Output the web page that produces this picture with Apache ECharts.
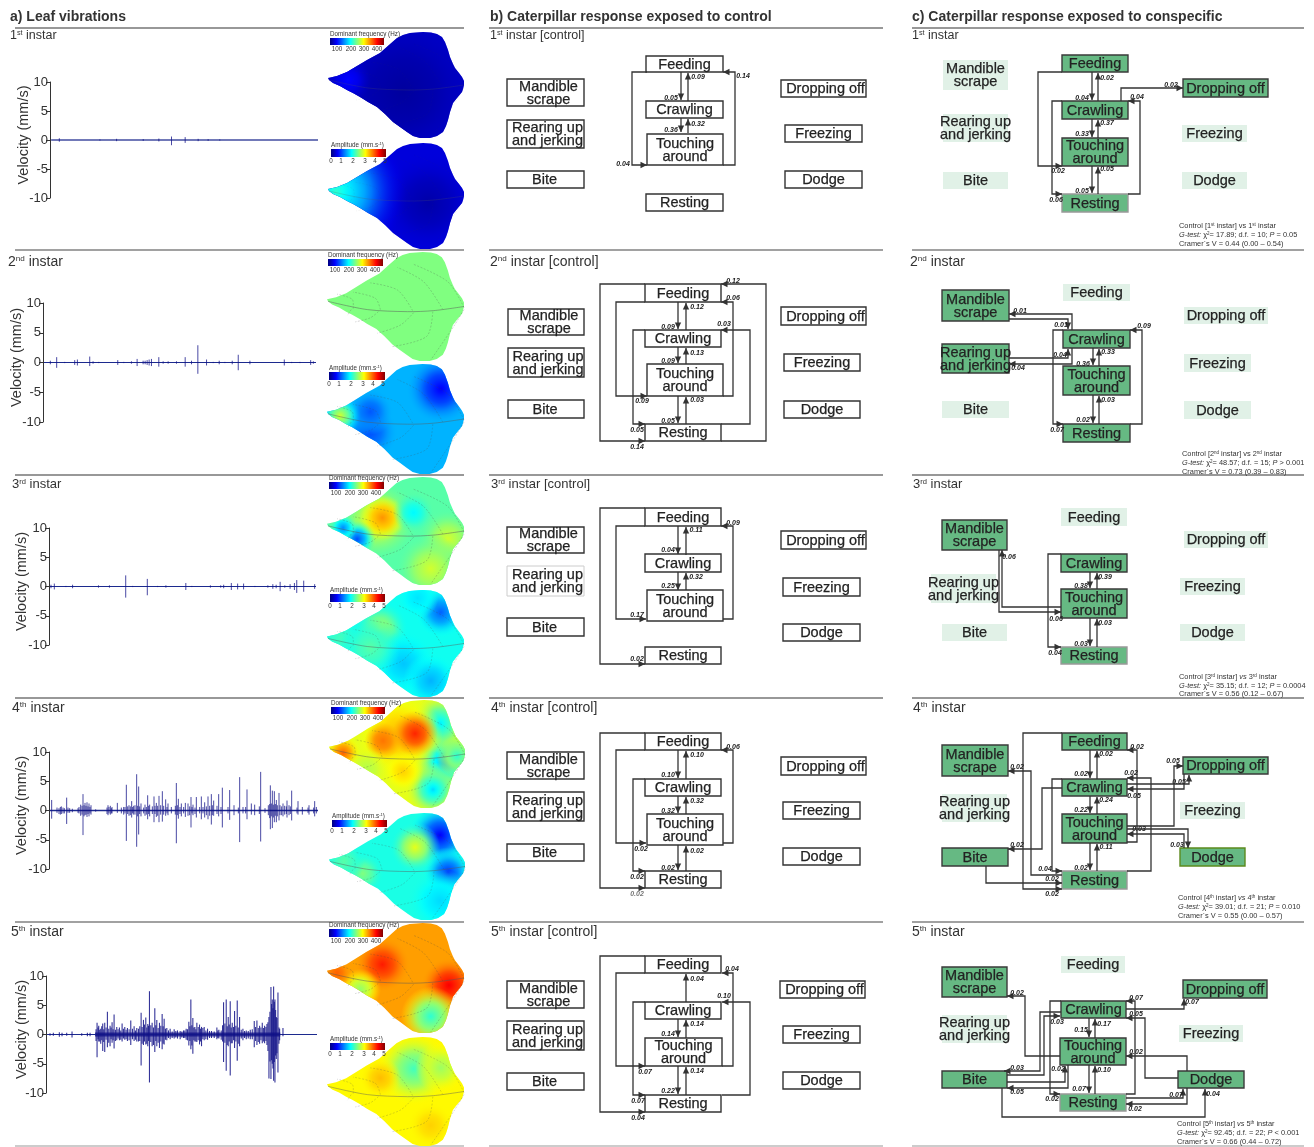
<!DOCTYPE html>
<html>
<head>
<meta charset="utf-8">
<title>Leaf vibrations and caterpillar response</title>
<script src="https://cdn.jsdelivr.net/npm/echarts@6/dist/echarts.min.js"></script>
<style>
  html, body { margin: 0; padding: 0; background: #fff; }
  #chart { width: 1314px; height: 1147px; }
</style>
</head>
<body>
<div id="chart"></div>
<script>
// ---------- data ----------
const ordinals = ['st', 'nd', 'rd', 'th', 'th'];
const velocityTicks = [-10, -5, 0, 5, 10];
const freqTicks = ['100', '200', '300', '400'];
const ampTicks = ['0', '1', '2', '3', '4', '5'];

// spikes: [time, up, down] mm/s
const spikes1 = [[178,.3,.3],[300,.1,.1],[350,.2,.2],[430,.15,.15],[477,.25,.25],[515,.6,.9],[556,.5,.5],[595,.2,.2],[625,.15,.15],[660,.1,.1]];
const spikes2 = [[152,.3,.3],[171,.9,.9],[195,.1,.1],[225,.4,.4],[233,.5,.5],[270,1,.6],[280,.2,.2],[297,.1,.1],[354,.4,.4],[372,.1,.1],[395,.2,.2],[412,.6,.6],[430,.3,.3],[436,.3,.3],[442,.4,.4],[448,.5,.5],[455,.6,.6],[477,.9,.7],[490,.2,.2],[505,.2,.2],[530,.2,.2],[556,.9,.7],[575,.3,.3],[594,2.9,1.9],[620,.5,.5],[640,.1,.1],[658,.3,.3],[675,.1,.1],[697,.3,.3],[715,1.3,1.3],[750,.3,.3],[853,.5,.5],[875,.1,.1],[900,.1,.1],[932,.4,.4],[940,.2,.2]];
const spikes3 = [[152,.3,.3],[162,.5,.5],[197,.1,.1],[217,.3,.3],[295,.2,.2],[328,.2,.2],[377,1.9,1.9],[398,.1,.1],[442,1.3,1.5],[473,.1,.1],[498,.2,.2],[558,.6,.6],[576,.1,.1],[632,.2,.2],[663,.2,.2],[672,.3,.3],[695,.6,.6],[714,.5,.5],[732,.5,.5],[766,.1,.1],[805,.2,.2],[820,.4,.4],[830,.3,.3],[842,.8,.8],[856,.2,.2],[872,.4,.4],[885,.6,.6],[892,1.1,1.1],[913,1,.9],[946,.4,.4]];
const spikes4 = [[156,1.8,1.4],[178,.4,.6],[185,.7,.6],[190,.5,.5],[201,2.2,2.3],[210,.4,.4],[218,.3,.3],[235,.4,.4],[243,1,.9],[250,2.8,4.2],[256,1.3,.8],[262,1.4,1.1],[268,1.2,1],[274,.9,.7],[288,.2,.2],[325,.9,.8],[332,.8,.7],[337,.6,.5],[353,1.3,.4],[365,.5,.5],[372,.6,.7],[380,4.4,5.2],[388,.9,.9],[396,1.6,1.2],[402,.8,.7],[411,6.2,6.2],[417,4.1,4.1],[424,1.2,1],[436,1,.9],[444,2.6,1.5],[450,1,1],[463,2.4,2],[470,1.3,1.1],[478,2.5,2],[488,3.3,1.9],[498,1.9,.9],[505,1.2,.8],[515,.6,.5],[530,4.7,5.6],[536,2,1.4],[545,1.2,1],[557,1.3,1.1],[565,1.2,.9],[574,2.3,2.9],[580,1,.8],[590,2.3,1.2],[605,2.4,1.5],[615,1.4,1.2],[625,2.4,1.5],[635,2.8,2.4],[642,1.7,.9],[657,2.8,1],[668,3.9,2.9],[690,3.5,1.6],[703,.9,.8],[720,5.7,5.4],[730,.6,.5],[742,3.6,1.5],[755,1.2,.7],[765,1,.8],[783,6.6,5.3],[796,.4,.4],[812,4.3,3.2],[818,3.4,3],[824,3.3,2],[830,1.8,2],[838,3,1.7],[850,1.2,1],[862,1.7,1.2],[868,.9,.8],[876,3.4,1.7],[895,1.6,.7],[908,.6,.7],[928,.9,.7],[945,1.6,1],[950,.6,.5],
  [172,.5,.4],[182,.6,.7],[194,.4,.5],[205,.5,.4],[238,.6,.5],[247,.8,.7],[253,.9,1],[259,.8,.7],[265,.7,.6],[271,.6,.5],[322,.5,.6],[328,.6,.5],[335,.4,.5],[376,.6,.5],[384,.7,.6],[392,.7,.8],[399,.6,.5],[406,.9,.7],[414,.8,1],[420,.7,.6],[432,.5,.5],[440,.6,.7],[447,.8,.6],[458,.7,.6],[466,.8,.6],[474,.8,.9],[483,.9,.7],[492,.8,.7],[502,.6,.5],[527,.8,.7],[533,.9,.8],[541,.6,.6],[552,.6,.5],[570,.7,.8],[577,.6,.5],[586,.5,.6],[600,.6,.5],[610,.6,.5],[620,.7,.8],[630,.8,.9],[638,.9,.8],[652,.8,.6],[664,.6,.6],[685,.6,.5],[716,.5,.5],[738,.6,.5],[779,.7,.6],[806,.9,.8],[810,1.1,1.3],[815,1.2,1],[821,1,1.2],[827,1.1,.9],[833,.9,1],[841,.9,.8],[846,.7,.8],[855,.8,.7],[860,.7,.6],[872,.7,.6],[892,.5,.5],[925,.5,.4],[942,.5,.5]];
const spikes5 = [[150,.2,.2],[160,.3,.2],[178,.4,.4],[186,.3,.3],[200,.3,.2],[216,.5,.5],[245,.2,.2],[262,.3,.3],[270,.3,.3],[291,2,3.9],[296,1.5,1.2],[302,1,1.6],[308,1.9,2.8],[314,2,3],[322,3.9,2.2],[330,1.5,2],[336,2.1,1.4],[342,3.4,2.4],[350,1.3,1],[358,1.2,1],[366,1.9,1.2],[374,1.3,.9],[382,1.1,1.1],[392,2.4,1.8],[402,1.4,1.1],[410,1.1,1.2],[423,3.7,5.3],[430,2.5,1.8],[437,2.9,1.7],[443,1.8,2],[448,7.4,8.2],[456,2,2],[464,4.5,3],[470,2.5,2],[478,2,2.3],[486,3.5,2.5],[492,2.7,1.7],[500,1.1,1],[510,1,.8],[522,.9,.7],[532,.7,.7],[540,.6,.8],[550,.7,.6],[558,1,.9],[566,2.2,1.9],[572,6,2.5],[578,2.8,3.3],[584,1.3,1.2],[590,2,1.3],[598,1.7,1.7],[604,1.3,2],[612,1.3,1],[622,1,.9],[634,.6,.6],[650,1.2,.8],[656,.8,.7],[670,5.5,4.7],[678,6,6.2],[684,3,2],[690,5.7,7],[696,2,1.5],[703,4,2.3],[711,5.8,4.5],[718,3,2],[728,1,1],[738,.7,.8],[750,.8,.8],[762,2.3,2.2],[770,2.4,1.8],[778,1.5,1.6],[786,2,1.5],[793,1.5,1.5],[800,1.8,1.8],[806,3,7.5],[812,8.1,7.6],[816,6,5],[820,8.2,7.9],[824,6,8.2],[828,3,4.2],[833,7.2,6.5],[838,1,1],[848,1.1,.3],
  [288,.9,1.1],[294,1.2,.8],[299,.8,1.2],[305,1.4,1],[311,.9,1.3],[318,1.2,.9],[326,1,1.4],[333,1.2,.8],[339,.9,1],[346,.8,1.1],[354,.9,.7],[362,.7,.9],[370,1,.7],[378,.8,.8],[387,.9,1],[397,1,.8],[406,.7,.9],[415,1,1.2],[419,1.4,1.1],[426,1.3,1.6],[433,1.7,1.2],[440,1.2,1.6],[445,1.5,1.1],[452,1.6,1.3],[460,1.2,1.8],[467,1.6,1.1],[474,1.1,1.4],[482,1.5,1.2],[489,1.4,1.6],[496,1,.9],[505,.7,.6],[516,.5,.6],[527,.6,.5],[545,.5,.5],[554,.7,.6],[562,.9,1],[569,1.4,1.1],[575,1.6,1.9],[581,1.2,1],[587,.9,1.2],[594,1.3,1],[601,1,1.2],[608,1.1,.8],[617,.7,.8],[628,.6,.6],[642,.5,.6],[653,.7,.6],[663,.7,.9],[667,1.6,1.2],[674,1.9,1.4],[681,1.4,1.8],[687,1.7,1.2],[693,1.2,1.5],[700,1.3,1],[707,1.5,1.2],[714,1.2,1.6],[723,.8,.7],[733,.6,.6],[744,.6,.7],[756,.9,.8],[766,1.3,1.1],[774,1.1,1.3],[782,1.2,1],[790,1.1,1.2],[797,1.3,1.1],[803,2.1,2.8],[809,3.9,4.6],[814,5.2,4.4],[818,4.5,5.8],[822,5.6,4.7],[826,4.2,3.6],[830,2.8,3.2],[836,1.2,1.6]];
const traceSpikes = [spikes1, spikes2, spikes3, spikes4, spikes5];
// dense background noise around zero: [from, to, amplitude]
const traceNoise = [
  [[155,955,.1]],
  [[145,948,.1]],
  [[150,950,.1]],
  [[150,955,.15]],
  [[142,285,.08],[285,840,.35],[840,950,.05]]
];

// leaf maps, colour scale position 0..1; spots are [x, y, radius, value, edgeValue]
const leafBase = [.07, .09, .5, .3, .46, .39, .6, .4, .72, .63];
const leafSpots = [
  [[75,60,70,.03],[20,48,20,.13]],
  [[100,60,45,.04],[8,48,62,.42]],
  [],
  [[113,24,30,.12],[43,66,24,.2],[43,46,20,.21],[13,50,18,.58]],
  [[50,42,36,.6],[55,40,20,.73,.6],[30,61,16,.2],[16,50,12,.26],[86,35,18,.37],[120,61,26,.58],[103,90,30,.58]],
  [[53,38,24,.54],[113,22,22,.22],[76,73,28,.32],[103,90,24,.3],[13,47,20,.44],[43,57,26,.46],[90,8,18,.35]],
  [[118,60,32,.27],[111,23,26,.36],[104,88,24,.34],[128,55,18,.42],[70,35,38,.7],[86,33,20,.84,.7],[54,40,16,.76,.7],[14,52,16,.78],[38,68,18,.55],[74,70,18,.67]],
  [[111,22,28,.12],[119,59,22,.17],[111,87,28,.34],[86,34,22,.6],[34,60,18,.5],[15,48,18,.46]],
  [[55,40,24,.85],[121,60,24,.88],[33,64,18,.52,.66],[103,90,26,.42,.64],[10,48,12,.78]],
  [[86,31,32,.44],[113,30,22,.53],[53,40,18,.69],[103,86,20,.67]]
];
const leafOutline = [[0,46],[9,44],[19,40],[29,34],[39,28],[52,21],[61,13],[69,6],[75,3],[82,1],[95,0],[103,0.5],[109,2],[114,5],[117,10],[120,18],[122,25],[125,32],[127,36],[131,41],[134,45],[136,49],[136,53],[135,57],[134,60],[129,66],[125,71],[122,80],[120,88],[118,94],[115,100],[109,104],[102,106],[92,106],[85,104],[79,100],[72,95],[65,90],[57,82],[49,75],[40,70],[32,65],[25,61],[19,58],[12,54],[5,51],[1,48]];
const leafMidrib = [[1,48],[40,56],[80,58],[106,57],[136,53]];
const leafVeins = [
  [[26,55],[25,46],[10,41]],
  [[53,56],[48,45],[26,39]],
  [[85,57],[70,37],[43,30]],
  [[115,56],[96,29],[70,15]],
  [[136,54],[120,29],[86,12]],
  [[24,56],[20,62]],
  [[51,58],[43,64],[28,68]],
  [[86,59],[73,71],[50,79]],
  [[105,58],[99,82],[65,92]],
  [[136,56],[126,72],[103,105]]
];

// behaviour boxes, same order in every layout
const behaviours = ['Feeding', 'Crawling', 'Touching\naround', 'Resting', 'Mandible\nscrape', 'Rearing up\nand jerking', 'Bite', 'Dropping off', 'Freezing', 'Dodge'];

// transitions: [value, labelX, labelY, route, optional label colour]
const edgesB1 = [
  ['0.05',671,98,[681,72,681,100]],['0.09',698,77,[688,101,688,73]],
  ['0.36',671,130,[681,118,681,132]],['0.32',698,124,[688,133,688,119]],
  ['0.04',623,164,[647,72,632,72,632,165,647,165]],['0.14',743,76,[723,165,735,165,735,72,723,72]]
];
const edgesB2 = [
  ['0.09',668,327,[678,302,678,329]],['0.12',697,307,[686,330,686,303]],
  ['0.09',668,361,[678,347,678,363]],['0.13',697,353,[686,364,686,348]],
  ['0.05',668,421,[678,396,678,423]],['0.03',697,400,[686,424,686,397]],
  ['0.14',637,447,[645,284,600,284,600,441,645,441]],['0.12',733,281,[721,441,766,441,766,284,721,284]],
  ['0.09',642,401,[645,302,616,302,616,396,647,396]],['0.06',733,298,[723,396,733,396,733,302,721,302]],
  ['0.05',637,430,[645,330,633,330,633,424,645,424]],['0.03',724,324,[721,424,750,424,750,330,721,330]]
];
const edgesB3 = [
  ['0.04',668,550,[678,526,678,554]],['0.11',696,530,[686,555,686,527]],
  ['0.25',668,586,[678,572,678,590]],['0.32',696,577,[686,590,686,573]],
  ['0.02',637,659,[645,508,600,508,600,664,645,664]],
  ['0.17',637,615,[645,526,616,526,616,619,646,619]],['0.09',733,523,[723,619,733,619,733,526,721,526]]
];
const edgesB4 = [
  ['0.10',668,775,[678,750,678,778]],['0.10',697,755,[686,779,686,751]],
  ['0.32',668,811,[678,796,678,813]],['0.32',697,801,[686,814,686,797]],
  ['0.02',668,868,[678,845,678,870]],['0.02',697,851,[686,871,686,846]],
  ['0.02',637,894,[645,733,600,733,600,888,645,888],'#777'],
  ['0.02',641,849,[645,750,616,750,616,843,646,843]],
  ['0.02',637,877,[645,779,633,779,633,871,645,871]],
  ['0.06',733,747,[723,843,733,843,733,750,721,750]]
];
const edgesB5 = [
  ['0.04',697,979,[686,1002,686,974]],
  ['0.14',668,1034,[678,1019,678,1037]],['0.14',697,1024,[686,1038,686,1020]],
  ['0.22',668,1091,[678,1066,678,1094]],['0.14',697,1071,[686,1095,686,1067]],
  ['0.04',638,1118,[645,956,600,956,600,1112,645,1112]],
  ['0.07',645,1072,[645,973,616,973,616,1066,645,1066]],
  ['0.07',638,1101,[645,1002,633,1002,633,1095,645,1095]],
  ['0.04',732,969,[722,1066,733,1066,733,973,722,973]],
  ['0.10',724,996,[722,1095,750,1095,750,1002,722,1002]]
];
const edgesC1 = [
  ['0.04',1082,98,[1092,72,1092,100]],['0.02',1107,78,[1098,101,1098,73]],
  ['0.33',1082,134,[1092,119,1092,137]],['0.37',1107,123,[1098,138,1098,120]],
  ['0.05',1082,191,[1092,166,1092,193]],['0.05',1107,169,[1098,194,1098,167]],
  ['0.02',1058,171,[1062,72,1038,72,1038,166,1062,166]],
  ['0.06',1056,200,[1062,101,1052,101,1052,194,1062,194]],
  ['0.04',1137,97,[1128,194,1140,194,1140,101,1128,101]],
  ['0.02',1171,85,[1121,101,1121,88,1183,88]]
];
const edgesC2 = [
  ['0.01',1020,311,[1072,330,1072,314,1009,314]],['0.01',1061,325,[1009,319,1068,319,1068,329]],
  ['0.04',1060,355,[1009,358,1068,358,1068,349]],['0.04',1018,368,[1072,348,1072,364,1009,364]],
  ['0.36',1083,364,[1093,348,1093,365]],['0.33',1108,352,[1099,366,1099,349]],
  ['0.02',1083,420,[1093,395,1093,423]],['0.03',1108,400,[1099,424,1099,396]],
  ['0.07',1057,430,[1063,330,1053,330,1053,424,1063,424]],['0.09',1144,326,[1130,424,1142,424,1142,330,1130,330]]
];
const edgesC3 = [
  ['0.04',1055,653,[1061,554,1048,554,1048,647,1061,647]],
  ['0.06',1009,557,[1061,607,1002,607,1002,550]],['0.06',1056,619,[999,550,999,612,1061,612]],
  ['0.38',1081,586,[1090,572,1090,588]],['0.39',1105,577,[1097,589,1097,573]],
  ['0.03',1081,644,[1090,618,1090,646]],['0.03',1105,623,[1097,647,1097,619]]
];
const edgesC4 = [
  ['0.02',1052,894,[1062,733,1023,733,1023,889,1062,889]],
  ['0.02',1017,767,[1062,875,1031,875,1031,771,1008,771]],
  ['0.04',1045,869,[1062,779,1052,779,1052,871,1062,871]],
  ['0.02',1017,845,[1062,788,1042,788,1042,849,1008,849]],
  ['0.02',1052,879,[986,866,986,883,1062,883]],
  ['0.02',1081,774,[1090,750,1090,778]],['0.02',1106,754,[1097,779,1097,751]],
  ['0.22',1081,810,[1090,796,1090,813]],['0.24',1106,800,[1097,814,1097,797]],
  ['0.02',1081,868,[1090,843,1090,870]],['0.11',1106,847,[1097,871,1097,844]],
  ['0.02',1137,747,[1127,842,1137,842,1137,750,1127,750]],
  ['0.02',1131,773,[1127,871,1151,871,1151,778,1127,778]],
  ['0.05',1179,782,[1127,784,1189,784,1189,775]],
  ['0.05',1134,796,[1184,774,1184,789,1127,789]],
  ['0.05',1173,761,[1127,826,1174,826,1174,766,1183,766]],
  ['0.03',1177,845,[1127,829,1188,829,1188,848]],
  ['0.03',1139,829,[1184,848,1184,834,1127,834]]
];
const edgesC5 = [
  ['0.02',1017,993,[1060,1056,1025,1056,1025,996,1007,996]],
  ['0.02',1052,1099,[1061,1001,1050,1001,1050,1094,1060,1094]],
  ['0.07',1136,998,[1126,1094,1135,1094,1135,1001,1126,1001]],
  ['0.03',1017,1068,[1061,1012,1040,1012,1040,1071,1004,1071]],
  ['0.03',1057,1022,[1007,1075,1044,1075,1044,1016,1060,1016]],
  ['0.02',1058,1069,[1007,1082,1065,1082,1065,1066]],
  ['0.05',1017,1092,[1068,1065,1068,1088,1007,1088]],
  ['0.04',1213,1094,[1002,1088,1002,1117,1205,1117,1205,1089]],
  ['0.15',1081,1030,[1089,1018,1089,1037]],['0.17',1104,1024,[1095,1038,1095,1019]],
  ['0.07',1079,1089,[1089,1065,1089,1093]],['0.10',1104,1070,[1095,1094,1095,1066]],
  ['0.07',1192,1002,[1126,1009,1184,1009,1184,999]],
  ['0.05',1136,1014,[1178,1078,1145,1078,1145,1018,1126,1018]],
  ['0.02',1136,1052,[1187,1071,1187,1056,1126,1056]],
  ['0.07',1176,1095,[1126,1098,1183,1098,1183,1089]],
  ['0.02',1135,1109,[1187,1088,1187,1104,1126,1104]]
];
const allEdges = [edgesB1, edgesB2, edgesB3, edgesB4, edgesB5, edgesC1, edgesC2, edgesC3, edgesC4, edgesC5].flat();

// G-test footers
const chiSquare = ['17.89', '48.57', '35.15', '39.01', '92.45'];
const degFreedom = ['10', '15', '12', '21', '22'];
const pValues = ['= 0.05', '> 0.001', '= 0.0004', '= 0.010', '< 0.001'];
const cramerV = ['0.44 (0.00 – 0.54)', '0.73 (0.39 – 0.83)', '0.56 (0.12 – 0.67)', '0.55 (0.00 – 0.57)', '0.66 (0.44 – 0.72)'];

// ---------- layout ----------
const W = 1314, H = 1147;
const FONT = '"Liberation Sans", Arial, sans-serif';
// axis x, y of +10, y of -10, right end, time range start, end
const traceLayout = [
  [50, 82, 198, 318, 150, 955],
  [43, 303, 422, 316, 130, 948],
  [49, 528, 645, 316, 146, 950],
  [49, 752, 869, 318, 148, 955],
  [46, 976, 1093, 317, 138, 950]
];
const nameGaps = [19, 19, 20, 20, 17];
const leafLayout = [
  [328,32,137,106],[328,143,137,106],
  [327,252,138,109],[327,364,138,110],
  [327,477,138,108],[327,590,138,107],
  [329,700,137,108],[329,813,137,107],
  [327,923,138,110],[327,1037,138,109]
];
const veinOpacity = [.1, .1, .4, .35, .4, .35, .4, .35, .4, .35];
// colour bars: x, y0, y1, width; freq rows first then amp
const barLayout = [
  [330,38,45,54,'f'],[331,149,157,55,'a'],
  [328,259,266,55,'f'],[329,372,380,56,'a'],
  [329,482,489,55,'f'],[330,594,602,55,'a'],
  [331,707,714,54,'f'],[332,820,827,55,'a'],
  [329,929,937,54,'f'],[330,1043,1050,55,'a']
];
const rules = [[28,'#333'],[250,'#444'],[475,'#333'],[698,'#333'],[922,'#444'],[1146,'#999']];
const ruleSpans = [[15,464],[489,883],[912,1304]];
const instarPosA = [[10,36],[8,262],[12,484],[12,708],[11,932]];
const instarPosB = [[490,36],[490,262],[491,484],[491,708],[491,932]];
const instarPosC = [[912,36],[910,262],[913,484],[913,708],[912,932]];
const instarFontSizes = [12.5, 14, 13, 14, 14];
const statsPos = [[1179,226,235,244],[1182,454,463,472],[1179,677,686,694],[1178,898,907,916],[1177,1124,1133,1142]];

// box rows follow behaviours: x0,y0,x1,y1,state
// state 0 plain, 1 pale border, 2 not seen, 3 seen, 4 seen grey border, 5 seen green border
const boxRows = [
  // b
  [[646,56,723,72,0],[646,101,723,118,0],[647,134,723,165,0],[646,194,723,211,0],[507,79,584,106,0],[507,120,584,148,0],[507,171,584,188,0],[781,80,866,97,0],[785,125,862,142,0],[785,171,862,188,0]],
  [[645,284,721,302,0],[645,330,721,347,0],[647,364,723,396,0],[645,424,721,441,0],[508,309,584,335,0],[508,348,584,377,0],[508,400,584,418,0],[781,307,866,325,0],[784,354,860,371,0],[784,401,860,418,0]],
  [[645,508,721,526,0],[645,554,721,572,0],[647,590,723,621,0],[645,647,721,664,0],[507,527,584,553,0],[507,566,584,596,1],[507,618,584,636,0],[781,531,866,549,0],[783,578,860,596,0],[783,624,860,641,0]],
  [[645,733,721,750,0],[645,779,721,796,0],[647,814,723,845,0],[645,871,721,888,0],[507,752,584,779,0],[507,792,584,821,0],[507,844,584,861,0],[781,757,866,775,0],[783,802,860,819,0],[783,848,860,865,0]],
  [[645,956,721,973,0],[645,1002,721,1019,0],[645,1038,722,1066,0],[645,1095,721,1112,0],[507,981,584,1008,0],[507,1021,584,1050,0],[507,1073,584,1090,0],[780,981,865,998,0],[783,1026,860,1043,0],[783,1072,860,1089,0]],
  // c
  [[1062,55,1128,72,3],[1062,101,1128,119,3],[1062,138,1128,166,3],[1062,194,1128,212,4],[943,60,1008,90,2],[943,114,1008,142,2],[943,172,1008,189,2],[1183,79,1268,97,3],[1182,125,1247,142,2],[1182,172,1247,189,2]],
  [[1063,284,1130,301,2],[1063,330,1130,348,3],[1063,366,1130,395,3],[1063,424,1130,442,3],[942,290,1009,321,3],[942,344,1009,373,3],[942,401,1009,418,2],[1184,307,1268,324,2],[1184,354,1251,372,2],[1184,401,1251,419,2]],
  [[1061,508,1127,526,2],[1061,554,1127,572,3],[1061,589,1127,618,3],[1061,647,1127,664,4],[942,520,1007,550,3],[931,574,996,603,2],[942,624,1007,641,2],[1184,531,1268,548,2],[1180,578,1245,595,2],[1180,624,1245,641,2]],
  [[1062,733,1127,750,3],[1062,779,1127,796,3],[1062,814,1127,843,3],[1062,871,1127,889,4],[942,745,1008,776,3],[942,794,1007,822,2],[942,848,1008,866,3],[1183,757,1268,774,3],[1180,802,1245,819,2],[1180,848,1245,866,5]],
  [[1061,956,1125,973,2],[1061,1001,1126,1018,3],[1060,1038,1126,1065,3],[1060,1094,1126,1111,4],[942,967,1007,997,3],[942,1015,1007,1043,2],[942,1071,1007,1088,3],[1183,980,1267,998,3],[1179,1025,1243,1042,2],[1178,1071,1244,1088,3]]
];
const boxStyle = [
  {fill:'#fff', stroke:'#333', lineWidth:1.4},
  {fill:'#fff', stroke:'#ccc', lineWidth:1},
  {fill:'#e1f1e7', stroke:null, lineWidth:0},
  {fill:'#66b983', stroke:'#3a3a3a', lineWidth:1.4},
  {fill:'#66b983', stroke:'#999', lineWidth:1.4},
  {fill:'#66b983', stroke:'#5c8a1e', lineWidth:1.4}
];
// label nudge inside the control boxes, by behaviour index
const controlLabelShift = [0, 0, 0, 0, 3, 2, -1, 2, 0, 0];

// ---------- helpers ----------
const clamp01 = v => Math.max(0, Math.min(1, v));
function jet(t, alpha) {
  const r = clamp01(1.5 - Math.abs(4 * t - 3));
  const g = clamp01(1.5 - Math.abs(4 * t - 2));
  const b = clamp01(1.5 - Math.abs(4 * t - 1));
  return 'rgba(' + Math.round(r * 255) + ',' + Math.round(g * 255) + ',' + Math.round(b * 255) + ',' + (alpha === undefined ? 1 : alpha) + ')';
}
function spotFill(value, edge) {
  const colorStops = [];
  for (let i = 0; i <= 10; i++) {
    const t = i / 10;
    const a = t < .45 ? 1 : 1 - (t - .45) / .55;
    colorStops.push({offset: t, color: jet(value + (edge - value) * t, a)});
  }
  return {type: 'radial', x: .5, y: .5, r: .5, colorStops};
}
function ordinalText(n) { return '{a|' + (n + 1) + '}{s|' + ordinals[n] + '}'; }
function instarRich(n) {
  const fs = instarFontSizes[n];
  return {
    a: {fontFamily: FONT, fontSize: fs, color: '#333'},
    s: {fontFamily: FONT, fontSize: fs * .58, color: '#333', verticalAlign: 'top', padding: [0, 0, 5, 0]}
  };
}
const statRich = {
  a: {fontFamily: FONT, fontSize: 7.4, color: '#333'},
  i: {fontFamily: FONT, fontSize: 7.4, fontStyle: 'italic', color: '#333'},
  s: {fontFamily: FONT, fontSize: 4.5, color: '#333', verticalAlign: 'top'}
};
const barRich = {
  a: {fontFamily: FONT, fontSize: 6.3, color: '#333'},
  s: {fontFamily: FONT, fontSize: 4, color: '#333', verticalAlign: 'top'}
};

// ---------- grids, axes, series ----------
const grids = [{left: 0, top: 0, width: W, height: H}];
const xAxes = [{gridIndex: 0, type: 'value', min: 0, max: W, show: false}];
const yAxes = [{gridIndex: 0, type: 'value', min: 0, max: H, inverse: true, show: false}];
const series = [];

traceLayout.forEach((t, i) => {
  const idx = grids.length;
  grids.push({left: t[0], top: t[1], width: t[3] - t[0], height: t[2] - t[1]});
  xAxes.push({gridIndex: idx, type: 'value', min: t[4], max: t[5], show: false});
  yAxes.push({
    gridIndex: idx, type: 'value', min: velocityTicks[0], max: velocityTicks[4], interval: 5,
    name: 'Velocity (mm/s)', nameLocation: 'middle', nameGap: nameGaps[i], nameRotate: 90, nameMoveOverlap: false,
    nameTextStyle: {fontFamily: FONT, fontSize: 14.5, color: '#333', padding: [0, 0, 0, 10]},
    axisLine: {show: true, onZero: false, lineStyle: {color: '#333', width: 1}},
    axisTick: {show: true, length: 4, lineStyle: {color: '#333', width: 1}},
    axisLabel: {fontFamily: FONT, fontSize: 13, color: '#333', margin: 2},
    splitLine: {show: false}
  });
  // baseline
  series.push({
    type: 'line', xAxisIndex: idx, yAxisIndex: idx, silent: true, symbol: 'none', z: 2,
    data: [[t[4] + 3, 0], [t[5], 0]],
    lineStyle: {color: '#1c2a8e', width: 1}
  });
  // noise band
  series.push({
    type: 'custom', xAxisIndex: idx, yAxisIndex: idx, silent: true, z: 2,
    data: traceNoise[i],
    encode: {x: [0, 1], y: 2},
    renderItem: (params, api) => {
      const a = api.coord([api.value(0), api.value(2)]);
      const b = api.coord([api.value(1), -api.value(2)]);
      return {type: 'rect', shape: {x: a[0], y: a[1], width: b[0] - a[0], height: b[1] - a[1]}, style: {fill: i === 4 ? 'rgba(20,20,135,.8)' : 'rgba(28,36,140,.5)'}};
    }
  });
  // spikes
  series.push({
    type: 'custom', xAxisIndex: idx, yAxisIndex: idx, silent: true, z: 3,
    data: traceSpikes[i],
    encode: {x: 0, y: 1},
    renderItem: (params, api) => {
      const a = api.coord([api.value(0), api.value(1)]);
      const b = api.coord([api.value(0), -api.value(2)]);
      return {type: 'line', shape: {x1: a[0], y1: a[1], x2: b[0], y2: b[1]}, style: {stroke: 'rgba(16,16,135,.85)', lineWidth: i === 4 ? 1.1 : .9}};
    }
  });
});

leafLayout.forEach((b, i) => {
  const idx = grids.length;
  grids.push({left: b[0], top: b[1], width: b[2], height: b[3]});
  xAxes.push({gridIndex: idx, type: 'value', min: 0, max: 137, show: false});
  yAxes.push({gridIndex: idx, type: 'value', min: 0, max: 106, inverse: true, show: false});
  const spots = leafSpots[i];
  const items = [{kind: 'base'}].concat(
    spots.map(s => ({kind: 'spot', s})),
    leafVeins.map(v => ({kind: 'vein', v})),
    [{kind: 'mid'}]
  );
  series.push({
    type: 'custom', xAxisIndex: idx, yAxisIndex: idx, silent: true, z: 1, clip: false,
    data: items.map((_, k) => [k, 0]),
    renderItem: (params, api) => {
      const it = items[params.dataIndex];
      const outline = leafOutline.map(p => api.coord(p));
      if (it.kind === 'base') {
        return {type: 'polygon', shape: {points: outline}, style: {fill: jet(leafBase[i])}};
      }
      if (it.kind === 'spot') {
        const s = it.s, c = api.coord([s[0], s[1]]), r = api.size([s[2], 0])[0] * 1.15;
        const edge = s[4] === undefined ? leafBase[i] : s[4];
        return {
          type: 'circle', shape: {cx: c[0], cy: c[1], r},
          style: {fill: spotFill(s[3], edge)},
          clipPath: {type: 'polygon', shape: {points: outline}}
        };
      }
      if (it.kind === 'vein') {
        return {
          type: 'polyline', shape: {points: it.v.map(p => api.coord(p)), smooth: .3},
          style: {fill: null, stroke: 'rgba(70,70,70,' + veinOpacity[i] + ')', lineWidth: .6, lineDash: [2, 1.5]}
        };
      }
      return {
        type: 'polyline', shape: {points: leafMidrib.map(p => api.coord(p)), smooth: .3},
        style: {fill: null, stroke: 'rgba(90,90,90,' + Math.min(1, veinOpacity[i] + .15) + ')', lineWidth: .9}
      };
    }
  });
});

// colour bars and their scale text
series.push({
  type: 'custom', xAxisIndex: 0, yAxisIndex: 0, silent: true, z: 5, clip: false,
  data: barLayout.map((_, k) => [k, 0]),
  renderItem: (params, api) => {
    const b = barLayout[params.dataIndex];
    const a = api.coord([b[0], b[1]]), c = api.coord([b[0] + b[3], b[2]]);
    const colorStops = [];
    for (let k = 0; k <= 16; k++) colorStops.push({offset: k / 16, color: jet(k / 16)});
    const isFreq = b[4] === 'f';
    const ticks = isFreq ? freqTicks : ampTicks;
    const offs = isFreq ? [7, 21, 34, 47] : [0, 10, 22, 34, 44, 54];
    const children = [{
      type: 'rect', shape: {x: a[0], y: a[1], width: c[0] - a[0], height: c[1] - a[1]},
      style: {fill: {type: 'linear', x: 0, y: 0, x2: 1, y2: 0, colorStops}}
    }, {
      type: 'text', x: a[0], y: a[1] - 4,
      style: {
        text: isFreq ? 'Dominant frequency (Hz)' : '{a|Amplitude (mm.s}{s|-1}{a|)}',
        rich: isFreq ? undefined : barRich,
        fontFamily: FONT, fontSize: 6.3, fill: '#333', align: 'left', verticalAlign: 'middle'
      }
    }];
    ticks.forEach((tk, k) => children.push({
      type: 'text', x: a[0] + offs[k], y: c[1] + 4,
      style: {text: tk, fontFamily: FONT, fontSize: 6.3, fill: '#333', align: 'center', verticalAlign: 'middle'}
    }));
    return {type: 'group', children};
  }
});

// section rules
series.push({
  type: 'custom', xAxisIndex: 0, yAxisIndex: 0, silent: true, z: 0, clip: false,
  data: rules.flatMap((r, ri) => ruleSpans.map((s, si) => [ri, si])),
  renderItem: (params, api) => {
    const r = rules[api.value(0)], s = ruleSpans[api.value(1)];
    const a = api.coord([s[0], r[0]]), b = api.coord([s[1], r[0]]);
    return {type: 'line', shape: {x1: a[0], y1: a[1], x2: b[0], y2: b[1]}, style: {stroke: r[1], lineWidth: 1.2}};
  }
});

// behaviour boxes
const boxItems = boxRows.flatMap(row => row.map((b, k) => ({b, k, name: behaviours[k]})));
series.push({
  type: 'custom', xAxisIndex: 0, yAxisIndex: 0, silent: true, z: 4, clip: false,
  data: boxItems.map((_, k) => [k, 0]),
  renderItem: (params, api) => {
    const it = boxItems[params.dataIndex], b = it.b, st = boxStyle[b[4]];
    const a = api.coord([b[0], b[1]]), c = api.coord([b[2], b[3]]);
    const shift = b[4] < 2 ? controlLabelShift[it.k] : 0;
    return {
      type: 'group',
      children: [{
        type: 'rect', shape: {x: a[0], y: a[1], width: c[0] - a[0], height: c[1] - a[1]},
        style: {fill: st.fill, stroke: st.stroke, lineWidth: st.lineWidth}
      }, {
        type: 'text', x: (a[0] + c[0]) / 2 + shift, y: (a[1] + c[1]) / 2 + .5,
        style: {text: it.name, fontFamily: FONT, fontSize: 14.5, lineHeight: 13, fill: '#222', stroke: '#222', lineWidth: .25, align: 'center', verticalAlign: 'middle'}
      }]
    };
  }
});

// transitions with arrow heads and proportions
series.push({
  type: 'custom', xAxisIndex: 0, yAxisIndex: 0, silent: true, z: 6, clip: false,
  data: allEdges.map((_, k) => [k, 0]),
  renderItem: (params, api) => {
    const e = allEdges[params.dataIndex], r = e[3], pts = [];
    for (let k = 0; k < r.length; k += 2) pts.push(api.coord([r[k], r[k + 1]]));
    const tip = pts[pts.length - 1], prev = pts[pts.length - 2];
    const d = Math.hypot(tip[0] - prev[0], tip[1] - prev[1]) || 1;
    const ux = (tip[0] - prev[0]) / d, uy = (tip[1] - prev[1]) / d;
    const back = [tip[0] - ux * 6.5, tip[1] - uy * 6.5];
    const lab = api.coord([e[1], e[2]]);
    return {
      type: 'group',
      children: [{
        type: 'polyline', shape: {points: pts},
        style: {fill: null, stroke: '#333', lineWidth: 1.3}
      }, {
        type: 'polygon',
        shape: {points: [tip, [back[0] - uy * 3.2, back[1] + ux * 3.2], [back[0] + uy * 3.2, back[1] - ux * 3.2]]},
        style: {fill: '#333'}
      }, {
        type: 'text', x: lab[0], y: lab[1],
        style: {text: e[0], fontFamily: FONT, fontSize: 7, fontWeight: 'bold', fontStyle: 'italic', fill: e[4] || '#222', align: 'center', verticalAlign: 'middle'}
      }]
    };
  }
});

// headings, instar names, test footers
const texts = [
  {x: 10, y: 17.5, text: 'a) Leaf vibrations', fontSize: 14, fontWeight: 'bold'},
  {x: 490, y: 17.5, text: 'b) Caterpillar response exposed to control', fontSize: 14, fontWeight: 'bold'},
  {x: 912, y: 17.5, text: 'c) Caterpillar response exposed to conspecific', fontSize: 14, fontWeight: 'bold'}
];
ordinals.forEach((_, n) => {
  const rich = instarRich(n);
  texts.push({x: instarPosA[n][0], y: instarPosA[n][1], text: ordinalText(n) + '{a| instar}', rich});
  texts.push({x: instarPosB[n][0], y: instarPosB[n][1], text: ordinalText(n) + '{a| instar [control]}', rich});
  texts.push({x: instarPosC[n][0], y: instarPosC[n][1], text: ordinalText(n) + '{a| instar}', rich});
  const s = statsPos[n], ord = '{s|' + ordinals[n] + '}', num = n + 1;
  texts.push({x: s[0], y: s[1], rich: statRich, text: '{a|Control [' + num + '}' + ord + '{a| instar] ' + (n < 2 ? 'vs ' : '}{i|vs }{a|') + num + '}' + ord + '{a| instar}'});
  texts.push({x: s[0], y: s[2], rich: statRich, text: '{i|G-test:}{a| χ}{s|2}{a|= ' + chiSquare[n] + '; d.f. = ' + degFreedom[n] + '; }{i|P}{a| ' + pValues[n] + '}'});
  texts.push({x: s[0], y: s[3], rich: statRich, text: '{a|Cramer´s V = ' + cramerV[n] + '}'});
});
series.push({
  type: 'custom', xAxisIndex: 0, yAxisIndex: 0, silent: true, z: 7, clip: false,
  data: texts.map((_, k) => [k, 0]),
  renderItem: (params, api) => {
    const t = texts[params.dataIndex], p = api.coord([t.x, t.y]);
    return {
      type: 'text', x: p[0], y: p[1],
      style: {
        text: t.text, rich: t.rich, fontFamily: FONT, fontSize: t.fontSize || 14,
        fontWeight: t.fontWeight || 'normal', fill: '#333', align: 'left', verticalAlign: 'middle'
      }
    };
  }
});

const chart = echarts.init(document.getElementById('chart'), null, {renderer: 'canvas'});
chart.setOption({
  animation: false,
  backgroundColor: '#fff',
  grid: grids,
  xAxis: xAxes,
  yAxis: yAxes,
  series
});
</script>
</body>
</html>
